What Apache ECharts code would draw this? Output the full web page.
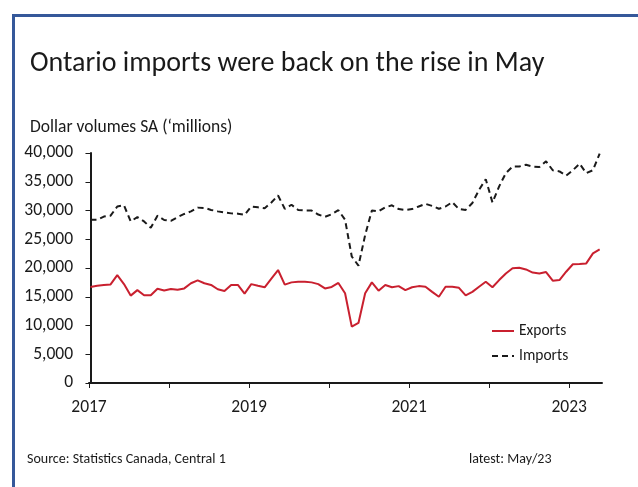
<!DOCTYPE html>
<html>
<head>
<meta charset="utf-8">
<script src="https://cdn.jsdelivr.net/npm/echarts@6/dist/echarts.min.js"></script>
<style>
html,body{margin:0;padding:0;background:#fff;}
#frame{position:absolute;left:12px;top:14px;width:640px;height:480px;border-top:3px solid #35589a;border-left:3px solid #35589a;}
#chart{position:absolute;left:0;top:0;width:638px;height:487px;}
</style>
</head>
<body>
<div id="frame"></div>
<div id="chart"></div>
<script>
// Monthly, Jan 2017 .. May 2023
const exportsVals = [16700,16900,17050,17150,18750,17200,15200,16150,15250,15250,16400,16100,
  16350,16200,16450,17350,17850,17350,17050,16300,16000,17050,17050,15550,
  17200,16900,16650,18150,19650,17100,17500,17600,17600,17500,17200,16450,
  16700,17400,15600,9800,10450,15600,17500,16050,17050,16650,16850,16150,
  16650,16850,16750,15850,15000,16750,16750,16550,15250,15850,16750,17600,
  16650,17900,19050,19950,20050,19750,19200,19050,19300,17800,17900,19350,
  20650,20700,20800,22550,23250];
const importsVals = [28400,28400,28950,29100,30700,30900,28100,28850,28100,27000,29100,28350,
  28200,28850,29400,29850,30500,30450,30100,29850,29650,29500,29450,29250,
  30700,30550,30400,31400,32600,30300,31000,30100,30000,30000,29300,28900,
  29350,30050,28400,22000,20400,25750,30000,29850,30550,30900,30250,30100,
  30250,30700,31150,30800,30300,30700,31450,30250,30100,31300,33600,35450,
  31400,34200,36500,37650,37650,37950,37650,37550,38550,37000,36800,36050,
  37000,38150,36500,37000,39900];
const seriesNames = ['Exports','Imports'];
const yearTicks = [0,1,2,3,4,5,6];
const yearLabels = [0,2,4,6];
const firstYear = 2017;

const FONT = 'Carlito, Lato, sans-serif';
const TXT = '#1a1a1a';
const chart = echarts.init(document.getElementById('chart'), null, {renderer:'canvas'});
chart.setOption({
  animation:false,
  backgroundColor:'transparent',
  title:[
    {text:'Ontario imports were back on the rise in May', left:25, top:45,
     textStyle:{fontFamily:FONT, fontSize:28, fontWeight:'normal', color:TXT}},
    {text:'Dollar volumes SA (\u2018millions)', left:25, top:114,
     textStyle:{fontFamily:FONT, fontSize:17.5, fontWeight:'normal', color:TXT}},
    {text:'Source: Statistics Canada, Central 1', left:22, top:447,
     textStyle:{fontFamily:FONT, fontSize:14, fontWeight:'normal', color:TXT}},
    {text:'latest: May/23', left:464, top:447,
     textStyle:{fontFamily:FONT, fontSize:14, fontWeight:'normal', color:TXT}}
  ],
  legend:{
    orient:'vertical', left:486, top:318, itemWidth:22, itemHeight:2, itemGap:9,
    data:seriesNames,
    textStyle:{fontFamily:FONT, fontSize:15.5, color:TXT}
  },
  grid:{left:89, top:153, right:36, bottom:104},
  xAxis:[
    {type:'value', min:-0.22, max:76.35, show:false, position:'bottom'},
    {type:'value', min:0, max:6.41, position:'bottom',
     axisLine:{onZero:false, lineStyle:{color:TXT, width:2}},
     axisTick:{show:true, length:5, inside:false, customValues:yearTicks, lineStyle:{color:TXT, width:1}},
     axisLabel:{customValues:yearLabels, margin:16, formatter:v=>String(firstYear+Math.round(v)),
       fontFamily:FONT, fontSize:17.5, color:TXT},
     splitLine:{show:false}}
  ],
  yAxis:{
    type:'value', min:0, max:40000, interval:5000,
    axisLine:{show:true, lineStyle:{color:TXT, width:2}},
    axisTick:{show:true, length:5, lineStyle:{color:TXT, width:1}},
    axisLabel:{margin:16, formatter:v=>v.toLocaleString('en-US'), fontFamily:FONT, fontSize:17.5, color:TXT},
    splitLine:{show:false}
  },
  series:[
    {name:seriesNames[0], type:'line', xAxisIndex:0, symbol:'none', z:3,
     data:exportsVals.map((v,i)=>[i,v]),
     lineStyle:{color:'#c9202f', width:2}, itemStyle:{color:'#c9202f'}},
    {name:seriesNames[1], type:'line', xAxisIndex:0, symbol:'none', z:2,
     data:importsVals.map((v,i)=>[i,v]),
     lineStyle:{color:TXT, width:2, type:[6,4]}, itemStyle:{color:TXT}}
  ]
});
</script>
</body>
</html>
